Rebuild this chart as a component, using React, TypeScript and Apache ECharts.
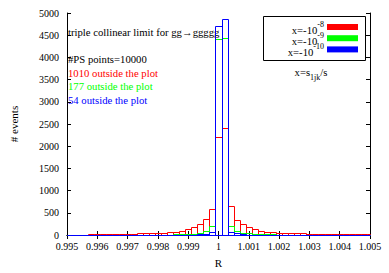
import React, { useEffect, useRef } from "react";
import * as echarts from "echarts";

const BIN_CENTERS = [
  0.995, 0.9952, 0.9954, 0.9956, 0.9958, 0.996, 0.9962, 0.9964, 0.9966, 0.9968,
  0.997, 0.9972, 0.9974, 0.9976, 0.9978, 0.998, 0.9982, 0.9984, 0.9986, 0.9988,
  0.999, 0.9992, 0.9994, 0.9996, 0.9998, 1.0, 1.0002, 1.0004, 1.0006, 1.0008,
  1.001, 1.0012, 1.0014, 1.0016, 1.0018, 1.002, 1.0022, 1.0024, 1.0026, 1.0028,
  1.003, 1.0032, 1.0034, 1.0036, 1.0038, 1.004, 1.0042, 1.0044, 1.0046, 1.0048,
  1.005,
];

const RED_COUNTS = [
  8, 8, 10, 10, 12, 12, 14, 16, 18, 22,
  26, 30, 35, 42, 45, 52, 55, 60, 73, 90,
  128, 172, 238, 350, 592, 2203, 2407, 657, 348, 238,
  172, 128, 88, 73, 70, 55, 40, 37, 37, 35,
  33, 25, 22, 20, 18, 18, 15, 15, 13, 12,
  12,
];

const GREEN_COUNTS = [
  3, 3, 3, 4, 4, 4, 5, 5, 5, 5,
  6, 6, 7, 7, 8, 8, 10, 10, 12, 15,
  20, 29, 51, 88, 195, 4420, 4442, 192, 90, 55,
  37, 25, 18, 14, 12, 10, 8, 8, 7, 6,
  6, 5, 5, 5, 4, 4, 4, 3, 3, 3,
  3,
];

const BLUE_COUNTS = [
  1, 1, 1, 1, 1, 1, 1, 1, 1, 1,
  1, 1, 1, 1, 2, 2, 2, 2, 3, 3,
  5, 8, 12, 30, 58, 4714, 4874, 58, 37, 15,
  8, 5, 3, 3, 2, 2, 2, 1, 1, 1,
  1, 1, 1, 1, 1, 1, 1, 1, 1, 1,
  1,
];

const SERIES_NAMES = ["x=-10^-8", "x=-10^-9", "x=-10^-10"];
const SERIES_BASE = "x=-10";
const SERIES_SUPS = ["-8", "-9", "-10"];
const SERIES_COLORS = ["#ff0000", "#00ff00", "#0000ff"];
const OUTSIDE_COUNTS = [1010, 177, 54];
const PS_POINTS = 10000;

const X_MIN = 0.995;
const X_MAX = 1.005;
const X_INTERVAL = 0.001;
const Y_MIN = 0;
const Y_MAX = 5000;
const Y_INTERVAL = 500;
const HALF_BIN = 0.0001;

const FONT = "Liberation Serif";
const TXT = 10.7;

export default function App() {
  const ref = useRef<HTMLDivElement>(null);

  useEffect(() => {
    if (!ref.current) return;
    const chart = echarts.init(ref.current, null, { renderer: "svg" });

    const makeSeries = (idx: number, counts: number[]) => ({
      type: "custom",
      name: SERIES_NAMES[idx],
      xAxisIndex: 0,
      yAxisIndex: 0,
      itemStyle: { color: SERIES_COLORS[idx] },
      encode: { x: 0, y: 1 },
      data: BIN_CENTERS.map((c, i) => [c, counts[i]]),
      z: 2 + idx,
      renderItem: (params: any, api: any) => {
        const c = api.value(0);
        const v = api.value(1);
        const lo = Math.max(c - HALF_BIN, X_MIN);
        const hi = Math.min(c + HALF_BIN, X_MAX);
        const p0 = api.coord([lo, 0]);
        const p1 = api.coord([hi, v]);
        const x0 = Math.round(p0[0]) + 0.5;
        const x1 = Math.round(p1[0]) + 0.5;
        const y0 = Math.round(p0[1]) + 0.5;
        const y1 = Math.round(p1[1]) + 0.5;
        return {
          type: "rect",
          shape: { x: x0, y: y1, width: x1 - x0, height: y0 - y1 },
          style: { fill: "none", stroke: SERIES_COLORS[idx], lineWidth: 1 },
        };
      },
    });

    const axisLine = { show: true, lineStyle: { color: "#000", width: 1 } };
    const axisTick = { show: true, inside: true, length: 4, lineStyle: { color: "#000" } };

    const legendGraphics: any[] = [
      {
        type: "rect",
        shape: { x: 263.5, y: 16.5, width: 102, height: 44 },
        style: { fill: "#fff", stroke: "#000", lineWidth: 1 },
        z: 10,
      },
    ];
    SERIES_NAMES.forEach((name, i) => {
      const cy = 27 + i * 11.2;
      legendGraphics.push({
        type: "rect",
        shape: { x: 327, y: cy - 3, width: 31, height: 6 },
        style: { fill: SERIES_COLORS[i] },
        z: 11,
      });
      legendGraphics.push({
        type: "text",
        x: 324,
        y: cy,
        z: 11,
        style: {
          text: "{b|" + SERIES_BASE + "}{s|" + SERIES_SUPS[i] + "}",
          align: "right",
          verticalAlign: "middle",
          rich: {
            b: { fontFamily: FONT, fontSize: TXT, fill: "#000", padding: [5, 0, 0, 0] },
            s: { fontFamily: FONT, fontSize: 8, fill: "#000", padding: [0, 0, 5, 0] },
          },
        },
      });
    });

    const option: any = {
      animation: false,
      textStyle: { fontFamily: FONT },
      grid: { left: 62, right: 19, top: 13, bottom: 33, containLabel: false },
      xAxis: [
        {
          type: "value",
          min: X_MIN,
          max: X_MAX,
          interval: X_INTERVAL,
          position: "bottom",
          name: "R",
          nameLocation: "middle",
          nameGap: 22,
          nameTextStyle: { fontFamily: FONT, fontSize: 11, color: "#000" },
          axisLine,
          axisTick,
          splitLine: { show: false },
          axisLabel: {
            fontFamily: FONT,
            fontSize: 10,
            color: "#000",
            margin: 6,
            formatter: (v: number) => String(parseFloat(v.toFixed(3))),
          },
        },
        {
          type: "value",
          min: X_MIN,
          max: X_MAX,
          interval: X_INTERVAL,
          position: "top",
          axisLine,
          axisTick,
          axisLabel: { show: false },
          splitLine: { show: false },
        },
      ],
      yAxis: [
        {
          type: "value",
          min: Y_MIN,
          max: Y_MAX,
          interval: Y_INTERVAL,
          position: "left",
          name: "# events",
          nameLocation: "middle",
          nameGap: 48,
          nameTextStyle: { fontFamily: FONT, fontSize: 11, color: "#000" },
          axisLine,
          axisTick,
          splitLine: { show: false },
          axisLabel: {
            fontFamily: FONT,
            fontSize: 10,
            color: "#000",
            margin: 8,
            formatter: (v: number) => String(v),
          },
        },
        {
          type: "value",
          min: Y_MIN,
          max: Y_MAX,
          interval: Y_INTERVAL,
          position: "right",
          axisLine,
          axisTick,
          axisLabel: { show: false },
          splitLine: { show: false },
        },
      ],
      graphic: [
        {
          type: "text",
          x: 68,
          y: 31.5,
          style: {
            text: "triple collinear limit for gg\u2192ggggg",
            fontFamily: FONT,
            fontSize: TXT,
            fill: "#000",
            verticalAlign: "middle",
          },
        },
        {
          type: "text",
          x: 68,
          y: 59,
          style: {
            text: "#PS points=" + PS_POINTS,
            fontFamily: FONT,
            fontSize: TXT,
            fill: "#000",
            verticalAlign: "middle",
          },
        },
        ...OUTSIDE_COUNTS.map((n, i) => ({
          type: "text",
          x: 68,
          y: 72.5 + i * 13.5,
          style: {
            text: n + " outside the plot",
            fontFamily: FONT,
            fontSize: TXT,
            fill: SERIES_COLORS[i],
            verticalAlign: "middle",
          },
        })),
        ...legendGraphics,
        {
          type: "text",
          x: 311,
          y: 74,
          style: {
            text: "{a|x=s}{sub|1jk}{a|/s}",
            align: "center",
            verticalAlign: "middle",
            rich: {
              a: { fontFamily: FONT, fontSize: TXT, fill: "#000", padding: [0, 0, 5, 0] },
              sub: { fontFamily: FONT, fontSize: 8, fill: "#000", padding: [7, 0, 0, 0] },
            },
          },
        },
      ],
      series: [
        makeSeries(0, RED_COUNTS),
        makeSeries(1, GREEN_COUNTS),
        makeSeries(2, BLUE_COUNTS),
      ],
    };

    chart.setOption(option);
    return () => chart.dispose();
  }, []);

  return (
    <div
      ref={ref}
      style={{ position: "fixed", left: 0, top: 0, width: 389, height: 273, background: "#fff" }}
    />
  );
}
